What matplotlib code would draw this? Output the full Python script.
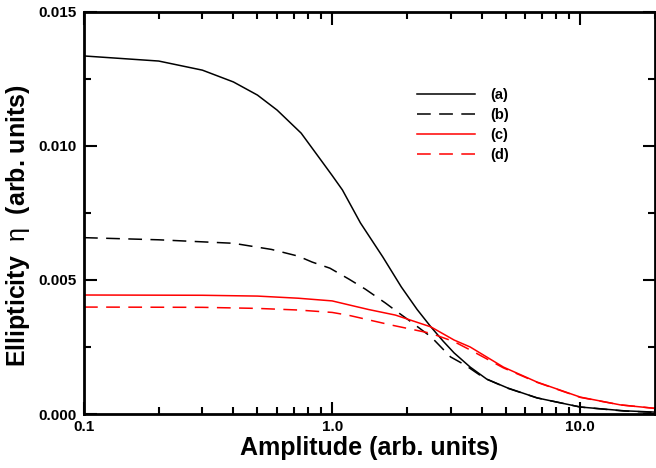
import matplotlib
matplotlib.use('Agg')
import matplotlib.pyplot as plt
from matplotlib.ticker import LogLocator, MultipleLocator, NullFormatter

plt.rcParams['font.family'] = ['Liberation Sans', 'DejaVu Sans']
plt.rcParams['font.weight'] = 'bold'
plt.rcParams['mathtext.fontset'] = 'custom'
plt.rcParams['mathtext.rm'] = 'Liberation Sans:weight=normal'

# curve (a) solid black
xa = [0.1, 0.2, 0.3, 0.4, 0.5, 0.6, 0.75, 0.9, 1.0, 1.1, 1.3, 1.6, 1.9, 2.2, 2.5, 2.8, 3.1, 3.6, 4.2, 5.1, 6.7, 10, 15, 20]
ya = [0.01336, 0.01317, 0.01283, 0.01239, 0.0119, 0.01134, 0.01048, 0.00948, 0.0089, 0.00836, 0.00713,
      0.00586, 0.00474, 0.0039, 0.00325, 0.00272, 0.00228, 0.00175, 0.0013, 0.00097, 0.0006, 0.00026,
      0.00012, 0.00007]
# curve (b) dashed black
xb = [0.1, 0.2, 0.4, 0.57, 0.73, 0.83, 0.98, 1.17, 1.36, 1.64, 1.85, 2.03, 2.51, 3.0, 3.43, 4.1, 5.1, 6.7, 10, 15, 20]
yb = [0.00658, 0.0065, 0.00637, 0.00614, 0.00589, 0.00567, 0.00544, 0.00503, 0.00466, 0.00414,
      0.00378, 0.00351, 0.00287, 0.00213, 0.00183, 0.00134, 0.00096, 0.0006, 0.00026, 0.00011, 0.00006]
# curve (c) solid red
xc = [0.1, 0.3, 0.5, 0.73, 1.0, 1.17, 1.4, 1.8, 2.5, 3.1, 3.6, 4.9, 6.7, 10, 14.5, 20]
yc = [0.00444, 0.00443, 0.0044, 0.00432, 0.00422, 0.00407, 0.0039, 0.00369, 0.00325, 0.00276,
      0.0025, 0.00175, 0.00119, 0.00063, 0.00034, 0.00021]
# curve (d) dashed red
xd = [0.1, 0.3, 0.5, 0.73, 1.0, 1.17, 1.73, 2.5, 3.1, 3.6, 4.9, 6.7, 10, 14.5, 20]
yd = [0.00399, 0.00398, 0.00394, 0.00388, 0.00379, 0.00368, 0.00332, 0.00301, 0.0027, 0.00239,
      0.00172, 0.00118, 0.00062, 0.00034, 0.00021]

xticks = [0.1, 1.0, 10.0]
xticklabels = ['0.1', '1.0', '10.0']
yticks = [0.0, 0.005, 0.010, 0.015]
yticklabels = ['0.000', '0.005', '0.010', '0.015']

fig = plt.figure(figsize=(6.56, 4.68), dpi=100)
ax = fig.add_axes([84/656, 1 - 414/468, 571/656, 402/468])

ax.plot(xa, ya, color='black', lw=1.1, label='(a)')
ax.plot(xb, yb, color='black', lw=1.1, dashes=(9, 5.5), label='(b)')
ax.plot(xc, yc, color='#ff0000', lw=1.1, label='(c)')
ax.plot(xd, yd, color='#ff0000', lw=1.1, dashes=(9, 5.5), label='(d)')

ax.set_xscale('log')
ax.set_xlim(0.1, 20)
ax.set_ylim(0, 0.015)
ax.set_xticks(xticks)
ax.set_xticklabels(xticklabels)
ax.xaxis.set_minor_locator(LogLocator(base=10, subs=[2, 3, 4, 5, 6, 7, 8, 9]))
ax.xaxis.set_minor_formatter(NullFormatter())
ax.set_yticks(yticks)
ax.set_yticklabels(yticklabels)
ax.yaxis.set_minor_locator(MultipleLocator(0.0025))

ax.tick_params(which='both', direction='in', top=True, right=True, width=1.5, labelsize=11)
ax.tick_params(which='major', length=9)
ax.tick_params(which='minor', length=5)
ax.tick_params(axis='y', pad=5)
ax.tick_params(axis='x', pad=4)
for sp in ax.spines.values():
    sp.set_linewidth(2)

ax.set_xlabel('Amplitude (arb. units)', fontsize=18, fontweight='bold', labelpad=2)
ax.set_ylabel('Ellipticity  $\\mathrm{\\eta}$  (arb. units)', fontsize=18, fontweight='bold')
ax.yaxis.set_label_coords(-0.091, 0.468)

ax.legend(loc='upper left', bbox_to_anchor=(417/656, 1 - 88/468), bbox_transform=fig.transFigure,
          frameon=False, fontsize=10.5, handlelength=4.0, handletextpad=1.0, labelspacing=0.42,
          borderpad=0, borderaxespad=0)

fig.savefig('out.png', dpi=100)
